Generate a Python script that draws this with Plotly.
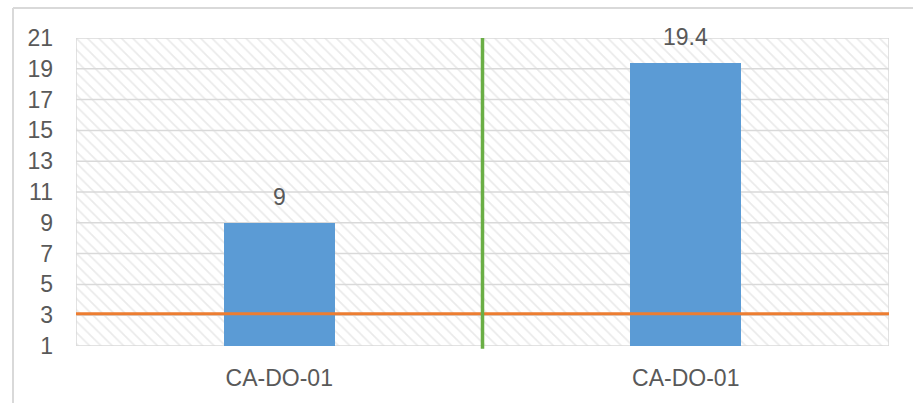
import plotly.graph_objects as go

# Sample results per station
categories = ["CA-DO-01", "CA-DO-01"]
values = [9, 19.4]
limit_value = 3.1
y_ticks = list(range(1, 22, 2))

positions = list(range(len(categories)))
x_lo, x_hi = -0.5, len(categories) - 0.5
y_lo, y_hi = y_ticks[0], y_ticks[-1]

TEXT = "#595959"
GRID = "#d9d9d9"
FONT = "Liberation Sans, Arial, sans-serif"
FS = 23

fig = go.Figure()

# Hatched plot-area background (bottom subplot)
fig.add_trace(go.Scatter(
    x=[0, 1, 1, 0, 0], y=[y_lo, y_lo, y_hi, y_hi, y_lo],
    mode="lines", fill="toself", line=dict(width=0),
    fillcolor="white",
    fillpattern=dict(shape="\\", fgcolor="#d6d6d6", bgcolor="white",
                     size=8, solidity=0.22),
    hoverinfo="skip", showlegend=False, xaxis="x", yaxis="y",
))

# Horizontal gridlines and plot-area side borders above the hatch
gx, gy = [], []
for t in y_ticks:
    gx += [0, 1, None]
    gy += [t, t, None]
for side in (0, 1):
    gx += [side, side, None]
    gy += [y_lo, y_hi, None]
fig.add_trace(go.Scatter(
    x=gx, y=gy, mode="lines", line=dict(color=GRID, width=1.5),
    hoverinfo="skip", showlegend=False, xaxis="x", yaxis="y",
))

# Bars (overlay subplot)
fig.add_trace(go.Bar(
    x=positions, y=values, width=0.274, marker=dict(color="#5b9bd5", line=dict(width=0)),
    showlegend=False, xaxis="x2", yaxis="y2",
))

# Limit line across the full width
fig.add_trace(go.Scatter(
    x=[x_lo, x_hi], y=[limit_value, limit_value], mode="lines",
    line=dict(color="#ed7d31", width=3), showlegend=False,
    xaxis="x2", yaxis="y2",
))

# Value labels above the bars
for p, v in zip(positions, values):
    fig.add_annotation(
        x=p, y=v, xref="x2", yref="y2", text=f"{v:g}", showarrow=False,
        yanchor="middle", yshift=26, font=dict(size=FS, color=TEXT, family=FONT),
    )

# Divider between the two categories
divider = (positions[0] + positions[1]) / 2
fig.add_shape(type="line", xref="x2", yref="y2 domain", x0=divider, x1=divider,
              y0=-0.009, y1=1, line=dict(color="#6aae45", width=3.5), layer="above")

# Outer chart frame (left and top edges)
fig.add_shape(type="line", xref="paper", yref="paper", x0=-0.0775, x1=-0.0775,
              y0=-0.3, y1=1.0975, line=dict(color=GRID, width=2), layer="above")
fig.add_shape(type="line", xref="paper", yref="paper", x0=-0.0775, x1=1.1,
              y0=1.0975, y1=1.0975, line=dict(color=GRID, width=2), layer="above")

fig.update_layout(
    width=913, height=403,
    margin=dict(l=76, r=24, t=38, b=57),
    paper_bgcolor="white", plot_bgcolor="white",
    font=dict(family=FONT, color=TEXT, size=FS),
    bargap=0,
    xaxis=dict(range=[0, 1], visible=False, fixedrange=True),
    yaxis=dict(range=[y_lo, y_hi], tickvals=y_ticks, showgrid=False, zeroline=False,
               showline=False, ticks="", ticklabelstandoff=22,
               tickfont=dict(size=FS, color=TEXT, family=FONT)),
    xaxis2=dict(overlaying="x", range=[x_lo, x_hi], tickvals=positions,
                ticktext=categories, showgrid=False, zeroline=False, showline=False,
                ticks="", ticklabelstandoff=16,
                tickfont=dict(size=FS, color=TEXT, family=FONT)),
    yaxis2=dict(overlaying="y", range=[y_lo, y_hi], visible=False),
)

fig.write_html("out.html")
